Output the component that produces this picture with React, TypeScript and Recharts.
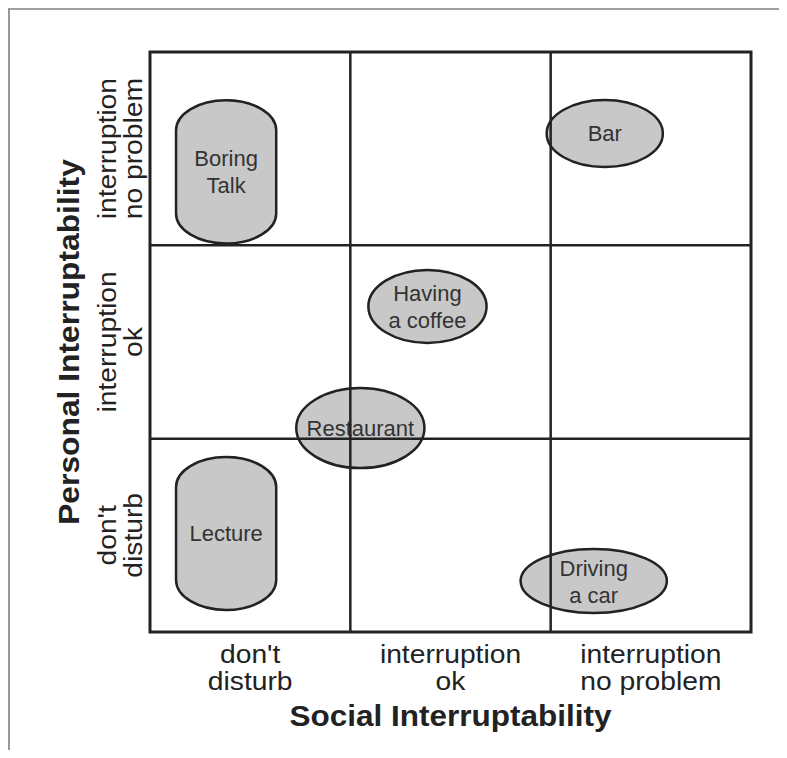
import React from 'react';
import { ScatterChart, Scatter, XAxis, YAxis, ReferenceArea, ReferenceLine, Customized } from 'recharts';

// Axis categories (same three levels on both axes)
const levelLabels: string[][] = [
  ["don't", 'disturb'],
  ['interruption', 'ok'],
  ['interruption', 'no problem'],
];
const levelCenters = [0.5, 1.5, 2.5];
const levelBoundaries = [1, 2];
const xTitle = 'Social Interruptability';
const yTitle = 'Personal Interruptability';

// Situations and the interruptability ranges they cover
const situationLabels: string[][] = [
  ['Boring', 'Talk'],
  ['Bar'],
  ['Having', 'a coffee'],
  ['Restaurant'],
  ['Lecture'],
  ['Driving', 'a car'],
];
const situationKinds = ['pill', 'ellipse', 'ellipse', 'ellipse', 'pill', 'ellipse'];
const socialFrom = [0.13, 1.98, 1.09, 0.73, 0.13, 1.85];
const socialTo = [0.63, 2.56, 1.68, 1.37, 0.63, 2.58];
const personalFrom = [2.01, 2.405, 1.495, 0.848, 0.114, 0.098];
const personalTo = [2.75, 2.752, 1.873, 1.262, 0.905, 0.429];

const centers = situationLabels.map((l, i) => ({
  x: (socialFrom[i] + socialTo[i]) / 2,
  y: (personalFrom[i] + personalTo[i]) / 2,
}));

const FONT = '"Liberation Sans", Arial, Helvetica, sans-serif';
const INK = '#222';
const W = 787;
const H = 758;

const XTick = (props: any) => {
  const { x, y, payload } = props;
  const idx = levelCenters.indexOf(payload.value);
  const lines = levelLabels[idx] || [];
  return (
    <g>
      {lines.map((t, i) => (
        <text
          key={i}
          transform={`translate(${x},${y + 31 + i * 27}) scale(1.13,1)`}
          textAnchor="middle"
          fontFamily={FONT}
          fontSize={25}
          fill={INK}
        >
          {t}
        </text>
      ))}
    </g>
  );
};

const YTick = (props: any) => {
  const { x, y, payload } = props;
  const idx = levelCenters.indexOf(payload.value);
  const lines = levelLabels[idx] || [];
  return (
    <g>
      {lines.map((t, i) => (
        <text
          key={i}
          transform={`translate(${x - 34 + i * 26},${y}) rotate(-90) scale(1.13,1)`}
          textAnchor="middle"
          fontFamily={FONT}
          fontSize={25}
          fill={INK}
        >
          {t}
        </text>
      ))}
    </g>
  );
};

const XTitle = (props: any) => {
  const vb = props.viewBox || {};
  return (
    <text
      transform={`translate(${vb.x + vb.width / 2},${vb.y + 94}) scale(1.05,1)`}
      textAnchor="middle"
      fontFamily={FONT}
      fontWeight="bold"
      fontSize={30}
      fill={INK}
    >
      {xTitle}
    </text>
  );
};

const YTitle = (props: any) => {
  const vb = props.viewBox || {};
  return (
    <text
      transform={`translate(${vb.x + 29},${vb.y + vb.height / 2}) rotate(-90) scale(1.06,1)`}
      textAnchor="middle"
      fontFamily={FONT}
      fontWeight="bold"
      fontSize={30}
      fill={INK}
    >
      {yTitle}
    </text>
  );
};

const SituationShape = (props: any) => {
  const { x, y, width, height, idx } = props;
  const kind = situationKinds[idx];
  const lines = situationLabels[idx];
  const cx = x + width / 2;
  const cy = y + height / 2;
  return (
    <g>
      {kind === 'pill' ? (
        <rect
          x={x}
          y={y}
          width={width}
          height={height}
          rx={width / 2}
          ry={30}
          fill="#c8c8c8"
          stroke={INK}
          strokeWidth={2.5}
        />
      ) : (
        <ellipse cx={cx} cy={cy} rx={width / 2} ry={height / 2} fill="#c8c8c8" stroke={INK} strokeWidth={2.5} />
      )}
      {lines.map((t, i) => (
        <text
          key={i}
          x={cx}
          y={cy + (i - (lines.length - 1) / 2) * 27 + 8}
          textAnchor="middle"
          fontFamily={FONT}
          fontSize={22}
          fill="#333"
        >
          {t}
        </text>
      ))}
    </g>
  );
};

const Frame = () => (
  <g>
    <line x1={5} y1={9} x2={W} y2={9} stroke="#808080" strokeWidth={1.6} />
    <line x1={9} y1={9} x2={9} y2={H} stroke="#808080" strokeWidth={1.6} />
  </g>
);

export default function App() {
  return (
    <div style={{ margin: -8, width: W, height: H, background: '#fff' }}>
      <ScatterChart width={W} height={H} margin={{ top: 52, right: 36, bottom: 26, left: 50 }}>
        <XAxis
          type="number"
          dataKey="x"
          domain={[0, 3]}
          ticks={levelCenters}
          tick={<XTick />}
          tickLine={false}
          axisLine={false}
          tickSize={0}
          tickMargin={0}
          height={100}
          interval={0}
          label={{ content: <XTitle /> }}
        />
        <YAxis
          type="number"
          dataKey="y"
          domain={[0, 3]}
          ticks={levelCenters}
          tick={<YTick />}
          tickLine={false}
          axisLine={false}
          tickSize={0}
          tickMargin={0}
          width={100}
          interval={0}
          label={{ content: <YTitle /> }}
        />
        <Scatter data={centers} isAnimationActive={false} shape={() => <g />} />
        {levelBoundaries.map((v) => (
          <ReferenceLine key={'x' + v} x={v} stroke={INK} strokeWidth={2.5} />
        ))}
        {levelBoundaries.map((v) => (
          <ReferenceLine key={'y' + v} y={v} stroke={INK} strokeWidth={2.5} />
        ))}
        <ReferenceArea x1={0} x2={3} y1={0} y2={3} fill="none" fillOpacity={0} stroke={INK} strokeWidth={3} />
        {situationLabels.map((l, i) => (
          <ReferenceArea
            key={i}
            x1={socialFrom[i]}
            x2={socialTo[i]}
            y1={personalFrom[i]}
            y2={personalTo[i]}
            shape={(p: any) => <SituationShape {...p} idx={i} />}
          />
        ))}
        <Customized component={<Frame />} />
      </ScatterChart>
    </div>
  );
}
